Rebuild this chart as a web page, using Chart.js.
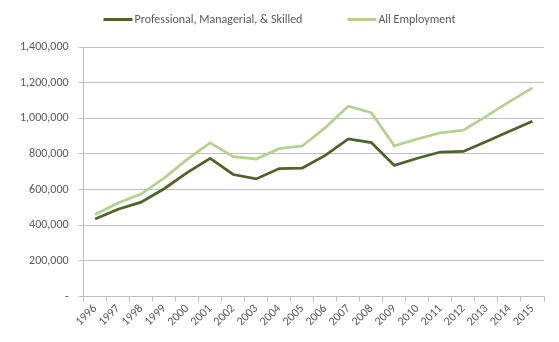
<!DOCTYPE html>
<html>
<head>
<meta charset="utf-8">
<script src="https://cdn.jsdelivr.net/npm/chart.js@4/dist/chart.umd.min.js"></script>
<style>
  html, body { margin: 0; padding: 0; background: #fff; }
  #wrap { width: 559px; height: 342px; }
</style>
</head>
<body>
<div id="wrap"><canvas id="employmentChart" width="559" height="342"></canvas></div>
<script>
// employment by year
const years = ['1996', '1997', '1998', '1999', '2000', '2001', '2002', '2003', '2004', '2005',
    '2006', '2007', '2008', '2009', '2010', '2011', '2012', '2013', '2014', '2015'];
const professionalSkilled = [435000, 490000, 530000, 605000, 695000, 775000, 685000, 660000, 718000, 721000,
    792000, 884000, 864000, 736000, 776000, 811000, 814000, 870000, 928000, 984000];
const allEmployment = [460000, 525000, 575000, 665000, 770000, 862000, 785000, 772000, 830000, 845000,
    948000, 1068000, 1032000, 846000, 884000, 919000, 934000, 1012000, 1094000, 1171000];
const yTicks = [0, 200000, 400000, 600000, 800000, 1000000, 1200000, 1400000];

const FONT = 'Calibri, Carlito, "Open Sans", sans-serif';
const TEXT = '#595959';
const GRID = '#bfbfbf';

// legend drawn as short line swatches with the label right behind them
const lineLegend = {
    id: 'lineLegend',
    afterDraw: function(chart) {
        const c = chart.ctx;
        const swatch = 29, gap = 2, itemGap = 45, y = 19.5;
        c.save();
        c.font = '12px ' + FONT;
        c.textBaseline = 'middle';
        const items = chart.data.datasets.map(ds => ({
            text: ds.label,
            color: ds.borderColor,
            w: swatch + gap + c.measureText(ds.label).width
        }));
        const total = items.reduce((s, it) => s + it.w, 0) + itemGap * (items.length - 1);
        let x = (chart.width - total) / 2;
        items.forEach(it => {
            c.strokeStyle = it.color;
            c.lineWidth = 3;
            c.beginPath();
            c.moveTo(x, y);
            c.lineTo(x + swatch, y);
            c.stroke();
            c.fillStyle = TEXT;
            c.fillText(it.text, x + swatch + gap, y);
            x += it.w + itemGap;
        });
        c.restore();
    }
};

document.addEventListener('DOMContentLoaded', function() {
    drawEmploymentChart();
});

function drawEmploymentChart() {
    const ctx = document.getElementById('employmentChart').getContext('2d');
    new Chart(ctx, {
        type: 'line',
        data: {
            labels: years,
            datasets: [{
                label: 'Professional, Managerial, & Skilled',
                data: professionalSkilled,
                borderColor: '#4f6228',
                borderWidth: 2.75,
                pointRadius: 0,
                tension: 0
            }, {
                label: 'All Employment',
                data: allEmployment,
                borderColor: '#b5d08f',
                borderWidth: 2.75,
                pointRadius: 0,
                tension: 0
            }]
        },
        plugins: [lineLegend],
        options: {
            responsive: false,
            animation: false,
            layout: { padding: { left: 10, right: 15, top: 47, bottom: 13 } },
            plugins: {
                tooltip: { enabled: false },
                legend: { display: false }
            },
            scales: {
                x: {
                    offset: true,
                    grid: {
                        offset: true,
                        drawOnChartArea: false,
                        drawTicks: true,
                        tickLength: 5,
                        color: GRID
                    },
                    border: { color: GRID, width: 1 },
                    ticks: {
                        color: TEXT,
                        font: { family: FONT, size: 12 },
                        maxRotation: 45,
                        minRotation: 45,
                        autoSkip: false,
                        padding: 0
                    }
                },
                y: {
                    min: 0,
                    max: 1400000,
                    afterBuildTicks: function(axis) {
                        axis.ticks = yTicks.map(v => ({ value: v }));
                    },
                    grid: {
                        color: GRID,
                        tickLength: 5
                    },
                    border: { color: GRID, width: 1 },
                    ticks: {
                        color: TEXT,
                        font: { family: FONT, size: 12 },
                        padding: 10,
                        callback: function(v) {
                            return v === 0 ? '-' : v.toLocaleString('en-US');
                        }
                    }
                }
            }
        }
    });
}
</script>
</body>
</html>
